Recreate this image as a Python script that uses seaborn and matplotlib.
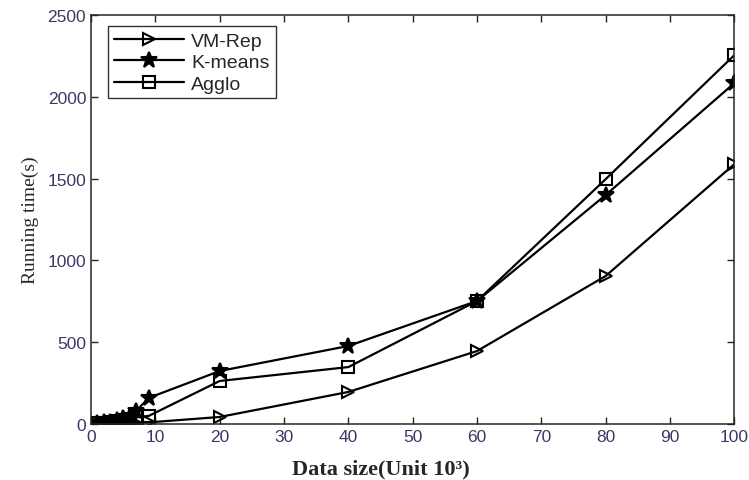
import pandas as pd
import matplotlib
matplotlib.use("Agg")
import matplotlib.pyplot as plt
import seaborn as sns

# data
sizes = [1, 2, 3, 4, 5, 6, 7, 9, 20, 40, 60, 80, 100]
vm_rep = [2, 3, 4, 5, 6, 7, 8, 10, 43, 196, 446, 905, 1589]
kmeans = [5, 10, 15, 25, 35, 50, 80, 160, 324, 477, 752, 1400, 2084]
agglo = [4, 8, 12, 18, 25, 32, 40, 50, 263, 348, 752, 1497, 2255]
names = ["VM-Rep", "K-means", "Agglo"]

df = pd.DataFrame({
    "size": sizes * 3,
    "time": vm_rep + kmeans + agglo,
    "method": [n for n in names for _ in sizes],
})

sns.set_style("ticks")
fig = plt.figure(figsize=(7.49, 4.81), dpi=100)
ax = fig.add_axes([0.1215, 0.1164, 0.859, 0.8503])

markers = {"VM-Rep": ">", "K-means": "*", "Agglo": "s"}
for n in names:
    sub = df[df["method"] == n]
    mk = markers[n]
    sns.lineplot(data=sub, x="size", y="time", ax=ax, color="black", lw=1.6,
                 marker=mk, markersize=12 if mk == "*" else 9,
                 markerfacecolor="black" if mk == "*" else "none",
                 markeredgecolor="black", markeredgewidth=1.5, label=n)

ax.set_xlim(0, 100)
ax.set_ylim(0, 2500)
ax.set_xticks(range(0, 101, 10))
ax.set_yticks(range(0, 2501, 500))
ax.tick_params(direction="in", top=True, right=True, length=5, width=1,
               labelsize=12.5, labelcolor="#3b3866")
for t in ax.get_xticklabels() + ax.get_yticklabels():
    t.set_family("Liberation Sans")
for s in ax.spines.values():
    s.set_linewidth(1.1)

ax.set_xlabel("Data size(Unit 10³)", fontsize=16, fontweight="bold",
              family="Liberation Serif")
ax.xaxis.set_label_coords(0.45, -0.085)
ax.set_ylabel("Running time(s)", fontsize=14, family="Liberation Serif",
              labelpad=6)

leg = ax.legend(loc="upper left", bbox_to_anchor=(0.026, 0.973),
                frameon=True, fancybox=False, edgecolor="black",
                handlelength=3.6, handletextpad=0.4, borderpad=0.3,
                labelspacing=0.2, borderaxespad=0,
                prop={"family": "Liberation Sans", "size": 14})
leg.get_frame().set_linewidth(1.0)

fig.savefig("out.png", dpi=100)
